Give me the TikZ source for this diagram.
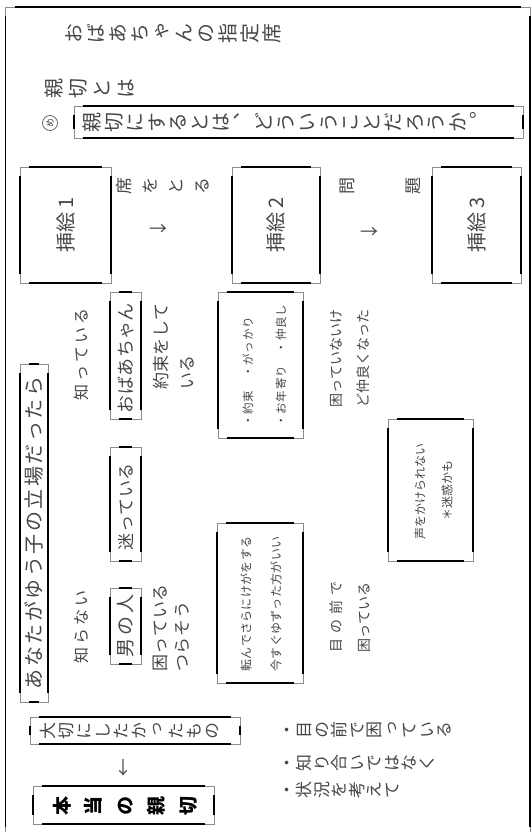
\documentclass[tikz,border=0pt]{standalone}
\usepackage{fontspec}
\usepackage{graphicx}
\setmainfont{Noto Sans CJK JP}
\newfontfamily\vfont[RawFeature={+vert}]{Noto Sans CJK JP}
\makeatletter
\newcommand\vchar[1]{\rotatebox[origin=c]{90}{\makebox[1em]{\rule[-0.12em]{0pt}{1em}#1}}}
\def\vt@end{vtendmarker}
\newcommand\vt[2][0pt]{{\vfont\def\vt@gap{#1}\vt@loop#2\vt@end}}
\def\vt@loop#1{\ifx#1\vt@end\unskip\else\vchar{#1}\hspace{\vt@gap}\expandafter\vt@loop\fi}
\newcommand\hs[2][0pt]{{\def\vt@gap{#1}\hs@loop#2\vt@end}}
\def\hs@loop#1{\ifx#1\vt@end\unskip\else#1\hspace{\vt@gap}\expandafter\hs@loop\fi}
\makeatother
\newcommand\magbox[5]{%
  \node[mbox, minimum width={#4-#2}, minimum height={#5-#3}] (#1) at ({(#2+#4)/2},{(#3+#5)/2}) {};
  \draw[mblack] ([xshift=9pt]#1.north west) -- ([xshift=-9pt]#1.north east);
  \draw[mblack] ([xshift=9pt]#1.south west) -- ([xshift=-9pt]#1.south east);
  \draw[mblack] ([yshift=-9pt]#1.north west) -- ([yshift=9pt]#1.south west);
  \draw[mblack] ([yshift=-9pt]#1.north east) -- ([yshift=9pt]#1.south east);
}
\begin{document}
\begin{tikzpicture}[x=1pt,y=-1pt,
  mbox/.style={draw=black!45,line width=0.6pt,inner sep=0pt,outer sep=0pt},
  mblack/.style={line width=1.3pt,draw=black},
  vtx/.style={inner sep=0pt,text=black!72},
  htx/.style={inner sep=0pt,rotate=90,text=black!72},
  fs/.style={font=\fontsize{#1}{#1}\selectfont}]
\fill[white] (0,0) rectangle (532,832);
\useasboundingbox (0,0) rectangle (532,832);
% boxes
\magbox{frame}{5.5}{7}{530}{836}
\magbox{qbox}{74}{106}{523}{138}
\magbox{p1}{20}{167}{111}{283}
\magbox{p2}{232}{167}{320}{283}
\magbox{p3}{432}{167}{521}{283}
\magbox{anata}{20}{364}{48}{702}
\magbox{obaa}{110}{292}{141}{419}
\magbox{yaku}{218}{292}{303}{438}
\magbox{koe}{388}{419}{473}{561}
\magbox{mayo}{110}{447}{141}{561}
\magbox{otoko}{110}{588}{141}{664}
\magbox{koron}{217}{523}{303}{683}
\magbox{taise}{30}{717}{240}{744}
\magbox{honto}{33}{786}{214}{824}
% vertical-writing texts
\node[vtx,fs=20] (title) at (172.5,34) {\vt[2pt]{おばあちゃんの指定席}};
\node[vtx,fs=20] (shinsetsu) at (89.5,89) {\vt[4pt]{親切とは}};
\node[draw=black!72,circle,minimum size=15pt,inner sep=0pt,line width=0.6pt,fs=9,text=black!72] (me) at (50,123) {\rotatebox{90}{め}};
\node[vtx,fs=20,anchor=west] (qtext) at (82,122) {\vt[1.5pt]{親切にするとは、どういうことだろうか。}};
\node[vtx,fs=17] (seki) at (163,186) {\vt[9pt]{席をとる}};
\node[vtx,fs=17] (mondai) at (380,186) {\vt[49pt]{問題}};
\node[vtx,fs=18] (ar1) at (158,230) {→};
\node[vtx,fs=18] (ar2) at (369,233) {→};
\node[vtx,fs=17] (taisetu) at (130,731) {\vt[1.3pt]{大切にしたかったもの}};
\node[vtx,fs=18] (ar3) at (123,768) {↓};
\node[vtx,fs=19,font=\fontsize{19}{19}\selectfont\bfseries,text=black] (hontou) at (125,806) {\vt[12.5pt]{本当の親切}};
\node[vtx,fs=17,anchor=west] (b1) at (278,730) {\vt[0.5pt]{・目の前で困っている}};
\node[vtx,fs=17,anchor=west] (b2) at (278,763) {\vt[0.5pt]{・知り合いではなく}};
\node[vtx,fs=17,anchor=west] (b3) at (278,790) {\vt[0.5pt]{・状況を考えて}};
% horizontal-writing texts (rotated)
\node[htx,fs=20] (t1) at (p1.center) {挿絵 1};
\node[htx,fs=20] (t2) at (p2.center) {挿絵 2};
\node[htx,fs=20] (t3) at (p3.center) {挿絵 3};
\node[htx,fs=20] (anatatext) at (34,533) {\hs[2.5pt]{あなたがゆう子の立場だったら}};
\node[htx,fs=16] (shitte) at (81.5,354) {\hs[3pt]{知っている}};
\node[htx,fs=18] (obaatext) at (125.5,358) {\hs[0.4pt]{おばあちゃん}};
\node[htx,fs=17,anchor=west] (yakusoku1) at (161,390) {\hs[0.4pt]{約束をして}};
\node[htx,fs=17,anchor=west] (yakusoku2) at (187.5,390) {\hs[0.4pt]{いる}};
\node[htx,fs=11.5,anchor=west] (y1) at (248,427) {\hs[0.8pt]{・約束　・がっかり}};
\node[htx,fs=11.5,anchor=west] (y2) at (281,427) {\hs[0.8pt]{・お年寄り　・仲良し}};
\node[htx,fs=14,anchor=west] (komaranai1) at (336,408) {\hs{困っていないけ}};
\node[htx,fs=14,anchor=west] (komaranai2) at (363,408) {\hs{ど仲良くなった}};
\node[htx,fs=12] (koe1) at (420,491.5) {\hs{声をかけられない}};
\node[htx,fs=12] (koe2) at (447,490) {\hs{＊迷惑かも}};
\node[htx,fs=17] (mayotext) at (126.5,506.5) {\hs[0.5pt]{迷っている}};
\node[htx,fs=16] (shiranai) at (81.5,627) {\hs[3pt]{知らない}};
\node[htx,fs=19] (otokotext) at (126,626) {\hs[3pt]{男の人}};
\node[htx,fs=17,anchor=west] (komatte1) at (160,672) {\hs[0.7pt]{困っている}};
\node[htx,fs=17,anchor=west] (tsurasou) at (182.5,672) {\hs[0.7pt]{つらそう}};
\node[htx,fs=12] (koron1) at (246,604) {\hs[0.3pt]{転んでさらにけがをする}};
\node[htx,fs=12] (koron2) at (276,604) {\hs[0.3pt]{今すぐゆずった方がいい}};
\node[htx,fs=14,anchor=west] (menomae) at (336,653) {\hs[5pt]{目の前で}};
\node[htx,fs=14,anchor=west] (komatte2) at (365,653) {\hs{困っている}};
\end{tikzpicture}
\end{document}
